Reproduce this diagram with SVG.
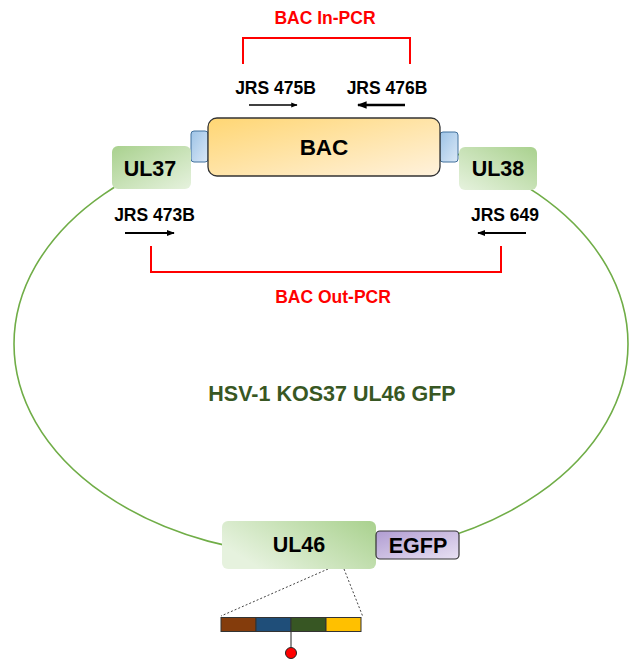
<svg xmlns="http://www.w3.org/2000/svg" width="629" height="660" viewBox="0 0 629 660">
<defs>
<linearGradient id="gBAC" x1="0" y1="0" x2="1" y2="1"><stop offset="0" stop-color="#FFD673"/><stop offset="1" stop-color="#FFF2DD"/></linearGradient>
<linearGradient id="gBlue" x1="0" y1="0" x2="1" y2="1"><stop offset="0" stop-color="#9DC3E6"/><stop offset="1" stop-color="#DAE8F7"/></linearGradient>
<linearGradient id="gL" x1="0" y1="0" x2="1" y2="1"><stop offset="0" stop-color="#A9D18E"/><stop offset="1" stop-color="#E6F2DE"/></linearGradient>
<linearGradient id="gR" x1="1" y1="0" x2="0" y2="1"><stop offset="0" stop-color="#A9D18E"/><stop offset="1" stop-color="#E6F2DE"/></linearGradient>
<linearGradient id="gUL46" x1="0" y1="0.5" x2="1" y2="0"><stop offset="0" stop-color="#E6F2DE"/><stop offset="1" stop-color="#A9D18E"/></linearGradient>
<linearGradient id="gEGFP" x1="0" y1="0" x2="1" y2="1"><stop offset="0" stop-color="#B09CD2"/><stop offset="1" stop-color="#E8E1F2"/></linearGradient>
<marker id="ah" viewBox="0 0 10 10" refX="9" refY="5" markerWidth="4" markerHeight="4" orient="auto" markerUnits="strokeWidth"><path d="M0,1 L10,5 L0,9 z" fill="#000"/></marker>
</defs>
<style>
.lbl{font-family:"Liberation Sans",Arial,sans-serif;font-weight:bold;fill:#000;text-anchor:middle}
.red{font-family:"Liberation Sans",Arial,sans-serif;font-weight:bold;fill:#FF0000;text-anchor:middle;font-size:17.5px}
.jrs{font-size:17.5px}
.box{font-size:21.5px}
.bracket{fill:none;stroke:#FF0000;stroke-width:2}
.arrow{stroke:#000;stroke-width:2;marker-end:url(#ah)}
.dash{stroke:#444;stroke-width:1;stroke-dasharray:2,2;fill:none}
</style>

<g id="connectors">
<ellipse cx="321" cy="344" rx="307" ry="212" fill="none" stroke="#70AD47" stroke-width="1.6"/>
<line class="dash" x1="328" y1="569" x2="221" y2="616"/>
<line class="dash" x1="344" y1="569" x2="363" y2="617"/>
<line x1="291" y1="632" x2="291" y2="647" stroke="#222" stroke-width="1"/>
</g>

<g id="in-pcr">
<polyline class="bracket" points="243,64 243,38 410,38 410,64"/>
<text class="red" x="325" y="24">BAC In-PCR</text>
</g>

<g id="out-pcr">
<polyline class="bracket" points="151,246 151,272 501,272 501,246"/>
<text class="red" x="333" y="303">BAC Out-PCR</text>
</g>

<g id="primer-475B">
<text class="lbl jrs" x="275.5" y="94">JRS 475B</text>
<line class="arrow" x1="249" y1="105" x2="297" y2="105" style="stroke-width:1.6"/>
</g>
<g id="primer-476B">
<text class="lbl jrs" x="387" y="94">JRS 476B</text>
<line class="arrow" x1="405" y1="105" x2="358" y2="105" style="stroke-width:2.4"/>
</g>
<g id="primer-473B">
<text class="lbl jrs" x="154.5" y="221">JRS 473B</text>
<line class="arrow" x1="125" y1="233" x2="174" y2="233"/>
</g>
<g id="primer-649">
<text class="lbl jrs" x="505" y="221">JRS 649</text>
<line class="arrow" x1="526" y1="233" x2="478" y2="233"/>
</g>

<g id="blue-left"><rect x="191" y="131" width="17" height="31" rx="3" fill="url(#gBlue)" stroke="#41719C" stroke-width="1"/></g>
<g id="blue-right"><rect x="440" y="132" width="18" height="30" rx="3" fill="url(#gBlue)" stroke="#41719C" stroke-width="1"/></g>

<g id="BAC">
<rect x="208" y="118" width="232" height="58" rx="9" fill="url(#gBAC)" stroke="#333" stroke-width="1.3"/>
<text class="lbl" x="324" y="155" font-size="22.5px">BAC</text>
</g>

<g id="UL37">
<rect x="112" y="146" width="79" height="43" rx="6" fill="url(#gL)"/>
<text class="lbl box" x="150" y="176">UL37</text>
</g>

<g id="UL38">
<rect x="459" y="147" width="78" height="43" rx="6" fill="url(#gR)"/>
<text class="lbl box" x="498" y="176">UL38</text>
</g>

<g id="title">
<text x="332" y="401" font-family="Liberation Sans,Arial,sans-serif" font-weight="bold" font-size="21.5px" fill="#385723" text-anchor="middle">HSV-1 KOS37 UL46 GFP</text>
</g>

<g id="UL46">
<rect x="222" y="521" width="154" height="48" rx="6" fill="url(#gUL46)"/>
<text class="lbl box" x="299" y="552">UL46</text>
</g>

<g id="EGFP">
<rect x="376" y="531" width="83" height="28" rx="4" fill="url(#gEGFP)" stroke="#333" stroke-width="1.2"/>
<text class="lbl" x="418" y="552.5" font-size="21.5px">EGFP</text>
</g>

<g id="domain-bar">
<rect x="221" y="617.5" width="35" height="14" fill="#843C0C" stroke="#333" stroke-width="1"/>
<rect x="256" y="617.5" width="35" height="14" fill="#1F4E79" stroke="#333" stroke-width="1"/>
<rect x="291" y="617.5" width="35" height="14" fill="#375623" stroke="#333" stroke-width="1"/>
<rect x="326" y="617.5" width="35" height="14" fill="#FFC000" stroke="#333" stroke-width="1"/>
</g>

<g id="site">
<circle cx="291" cy="653" r="5.5" fill="#FF0000" stroke="#222" stroke-width="1"/>
</g>
</svg>
